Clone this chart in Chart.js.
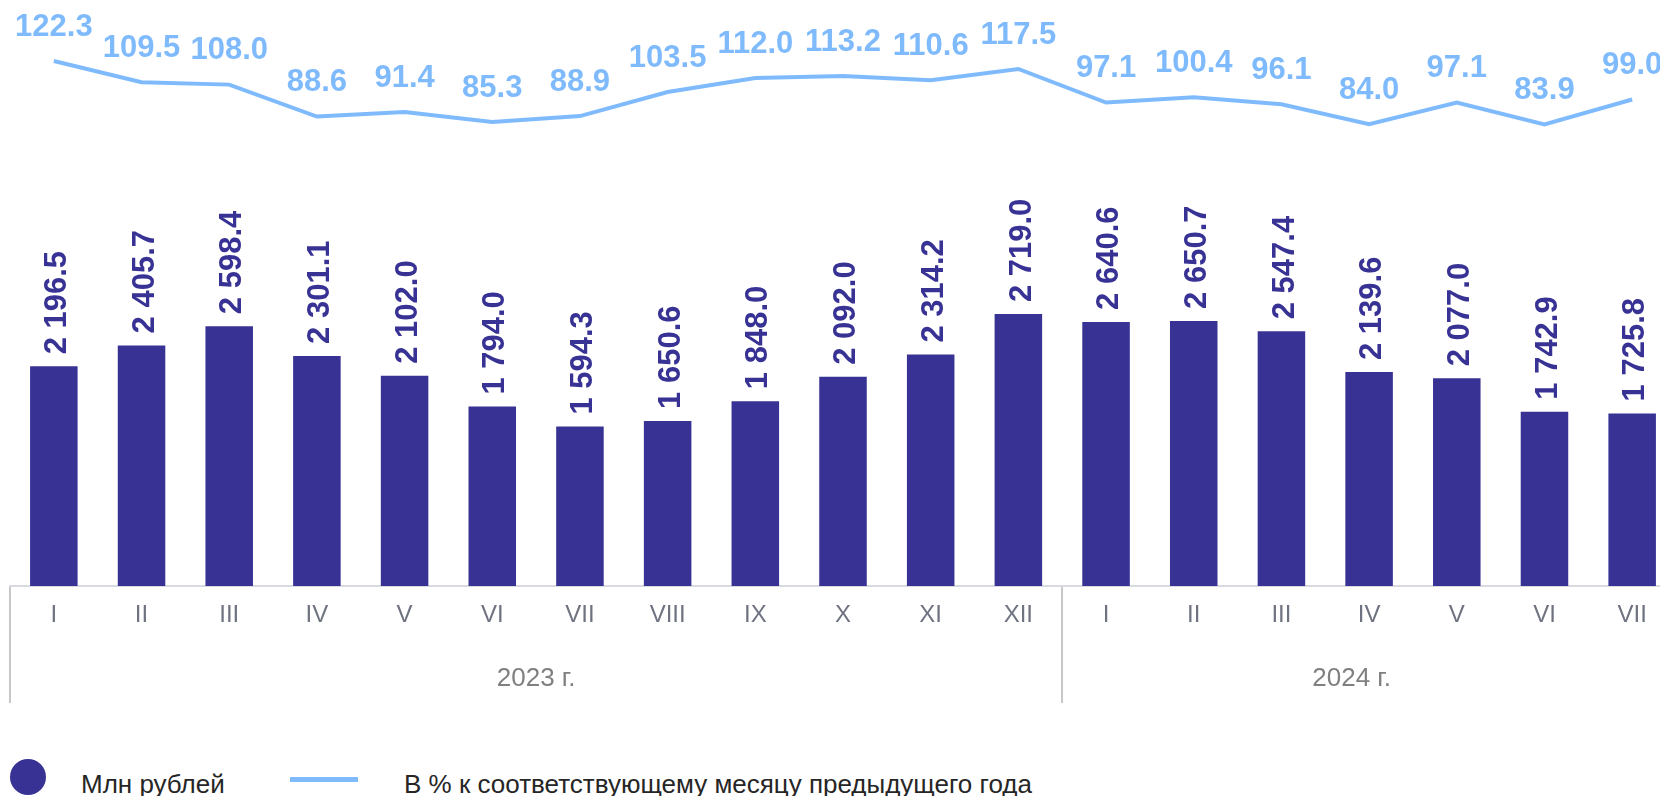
<!DOCTYPE html>
<html>
<head>
<meta charset="utf-8">
<script src="https://cdn.jsdelivr.net/npm/chart.js@4"></script>
<style>
  html, body { margin: 0; padding: 0; background: #fff; overflow: hidden; width: 1660px; height: 796px; }
  #wrap { position: absolute; left: 0; top: 0; width: 1676px; height: 760px; }
  .legend { position: absolute; font-family: "Liberation Sans", Arial, sans-serif; font-size: 26px; line-height: 26px; color: #262626; white-space: nowrap; }
  .dot { position: absolute; left: 10px; top: 759px; width: 36px; height: 36px; border-radius: 50%; background: #373294; }
  .bar-line { position: absolute; left: 290px; top: 777px; width: 68px; height: 5px; background: #7fbbfc; }
</style>
</head>
<body>
<div id="wrap"><canvas id="chart" width="1676" height="760"></canvas></div>
<div class="dot"></div>
<div class="legend" style="left:81px; top:771px;">Млн рублей</div>
<div class="bar-line"></div>
<div class="legend" style="left:404px; top:771px;">В % к соответствующему месяцу предыдущего года</div>
<script>
  var months = ["I", "II", "III", "IV", "V", "VI", "VII", "VIII", "IX", "X", "XI", "XII",
                "I", "II", "III", "IV", "V", "VI", "VII"];
  var years = ["2023 г.", "2024 г."];
  var rubles = [2196.5, 2405.7, 2598.4, 2301.1, 2102.0, 1794.0, 1594.3, 1650.6, 1848.0, 2092.0,
                2314.2, 2719.0, 2640.6, 2650.7, 2547.4, 2139.6, 2077.0, 1742.9, 1725.8];
  var pct = [122.3, 109.5, 108.0, 88.6, 91.4, 85.3, 88.9, 103.5, 112.0, 113.2,
             110.6, 117.5, 97.1, 100.4, 96.1, 84.0, 97.1, 83.9, 99.0];

  var BAR = "#373294";
  var LINE = "#7fbbfc";
  var FONT = "'Liberation Sans', Arial, sans-serif";

  function fmt(v) {
    var parts = v.toFixed(1).split(".");
    return parts[0].replace(/\B(?=(\d{3})+(?!\d))/g, " ") + "." + parts[1];
  }

  // values drawn over bars (rotated) and above line points
  var valueLabels = {
    id: "valueLabels",
    afterDatasetsDraw: function (chart) {
      var ctx = chart.ctx;
      var size = 31;
      ctx.save();
      ctx.font = "bold " + size + "px " + FONT;

      var bars = chart.getDatasetMeta(0).data;
      ctx.fillStyle = BAR;
      ctx.textAlign = "left";
      ctx.textBaseline = "alphabetic";
      bars.forEach(function (b, i) {
        ctx.save();
        ctx.translate(b.x + size * 0.36 + 1, b.y - 12);
        ctx.rotate(-Math.PI / 2);
        ctx.fillText(fmt(rubles[i]), 0, 0);
        ctx.restore();
      });

      var pts = chart.getDatasetMeta(1).data;
      ctx.fillStyle = LINE;
      ctx.textAlign = "center";
      pts.forEach(function (p, i) {
        ctx.fillText(pct[i].toFixed(1), p.x, p.y - 25.3);
      });
      ctx.restore();
    }
  };

  // only the year boundaries get a tick mark
  var sepColor = function (c) {
    return (c.index === 0 || c.index === 12) ? "#c8c8c8" : "rgba(0,0,0,0)";
  };

  new Chart(document.getElementById("chart"), {
    type: "bar",
    data: {
      labels: months,
      datasets: [
        {
          label: "Млн рублей",
          data: rubles,
          backgroundColor: BAR,
          yAxisID: "y",
          categoryPercentage: 1,
          barPercentage: 0.542,
          order: 2
        },
        {
          type: "line",
          label: "В % к соответствующему месяцу предыдущего года",
          data: pct,
          borderColor: LINE,
          borderWidth: 4,
          pointRadius: 0,
          tension: 0,
          fill: false,
          yAxisID: "y1",
          order: 1
        }
      ]
    },
    options: {
      responsive: false,
      animation: false,
      layout: { padding: { top: 20, left: 10, right: 0, bottom: 18 } },
      plugins: { legend: { display: false }, tooltip: { enabled: false } },
      scales: {
        x: {
          type: "category",
          position: "bottom",
          weight: 0,
          offset: true,
          grid: {
            offset: true,
            drawOnChartArea: false,
            drawTicks: true,
            tickLength: 117,
            lineWidth: 2,
            color: sepColor,
            tickColor: sepColor
          },
          border: { display: true, color: "#d9d9e0", width: 2 },
          ticks: {
            mirror: true,
            padding: -43.7,
            maxRotation: 0,
            autoSkip: false,
            color: "#6f7380",
            font: { family: FONT, size: 24 }
          }
        },
        year: {
          type: "linear",
          position: "bottom",
          weight: 1,
          offset: false,
          min: -0.5,
          max: 18.5,
          grid: { display: false, drawTicks: false },
          border: { display: false },
          afterBuildTicks: function (axis) {
            axis.ticks = [{ value: 5.5 }, { value: 14.8 }];
          },
          ticks: {
            padding: 47.6,
            maxRotation: 0,
            autoSkip: false,
            color: "#808080",
            font: { family: FONT, size: 26 },
            callback: function (v, i) { return years[i]; }
          }
        },
        y: { display: false, min: 0, max: 5660 },
        y1: { display: false, min: -196.15, max: 147.2 }
      }
    },
    plugins: [valueLabels]
  });
</script>
</body>
</html>
